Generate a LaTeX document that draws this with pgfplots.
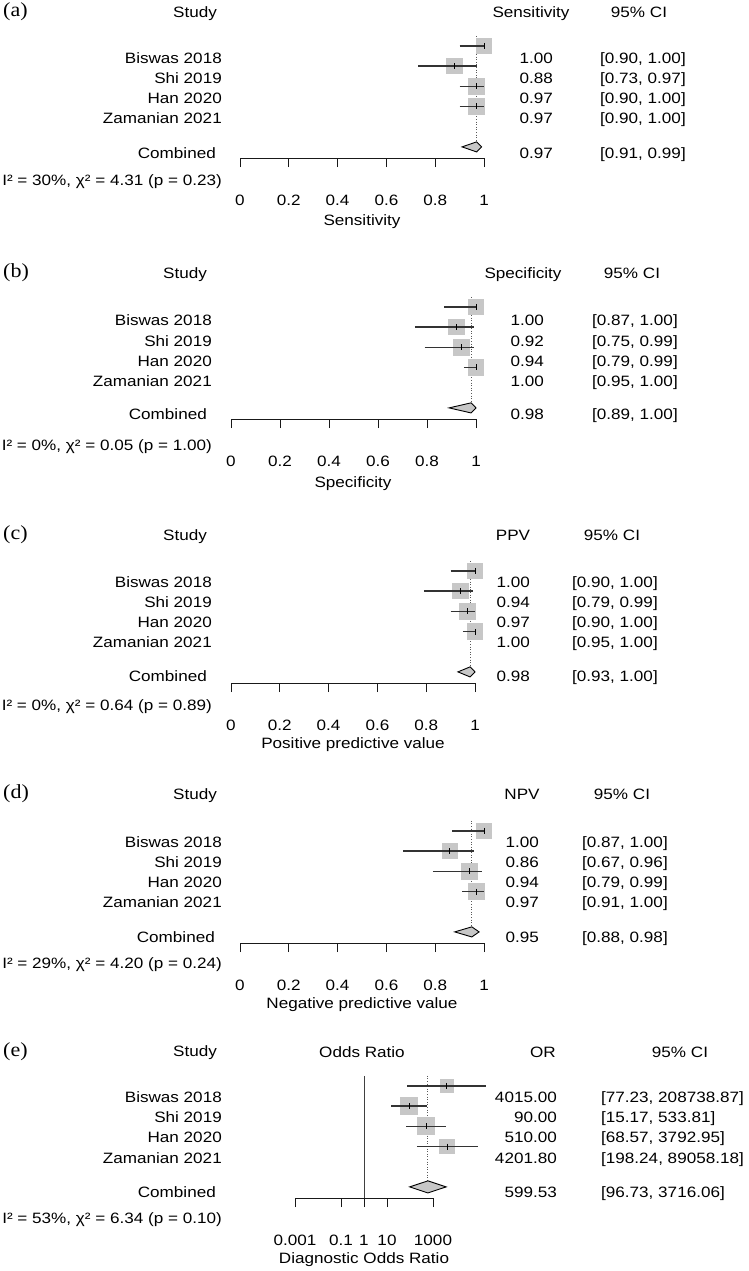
\documentclass[border=0pt]{standalone}
\usepackage{pgfplots}
\pgfplotsset{compat=1.18}
\usepackage{fontspec}
\setmainfont{Liberation Sans}[FakeStretch=1.14]
\newfontfamily\lettfont{Liberation Serif}[FakeStretch=1.1]
\newcommand{\fs}{\fontsize{15}{18}\selectfont}
\tikzset{
  txt/.style={inner sep=0pt, text height=10.74pt, text depth=0pt, font=\fs},
  lett/.style={inner sep=0pt, anchor=west, font=\lettfont\fontsize{20}{24}\selectfont},
}
\newcommand{\R}[3]{\node[txt,anchor=east] at (#1pt,-#2pt) {#3};}
\newcommand{\Lt}[3]{\node[txt,anchor=west] at (#1pt,-#2pt) {#3};}
\newcommand{\C}[3]{\node[txt,anchor=center] at (#1pt,-#2pt) {#3};}
\newcommand{\Lett}[2]{\node[lett] at (3pt,-#1pt) {#2};}
\definecolor{sqgray}{gray}{0.78}
\pgfplotsset{
  forest/.style={
    clip mode=individual,
    scale only axis, height=132.3pt, ymin=-6.55, ymax=0,
    axis x line=bottom, axis y line=none,
    axis line style={-, line width=0.9pt, black!90},
    tick align=outside, major tick length=9pt,
    every tick/.style={line width=0.9pt, black!90},
    clip=false,
    xticklabel style={txt, anchor=center, yshift=-33pt},
  },
  sq/.style={only marks, color=sqgray, mark=square*, mark size=7.75pt,
    mark options={fill=sqgray, draw=sqgray, line width=0pt}},
  ci/.style={line width=1.3pt, black!80, no marks},
  est/.style={only marks, color=black, mark=|, mark size=3pt, mark options={line width=0.9pt, draw=black}},
  refl/.style={line width=0.8pt, black!65, dash pattern=on 1pt off 1.6pt, no marks},
  dia/.style={fill=sqgray, draw=black, line width=0.9pt, no marks},
  unit/.style={xmin=0, xmax=1, xtick={0,0.2,0.4,0.6,0.8,1}, xticklabels={0,0.2,0.4,0.6,0.8,1}},
}
\begin{document}
\begin{tikzpicture}
\path[use as bounding box] (0,0) rectangle (748pt,-1271pt);

% ---------------- (a) Sensitivity
\begin{axis}[forest, unit, at={(240pt,-158pt)}, anchor=south west, width=244pt]
\addplot[refl] coordinates {(0.97,-0.5) (0.97,-5.75)};
\addplot[sq] coordinates {(1.00,-1) (0.88,-2) (0.97,-3) (0.97,-4)};
\addplot[ci] coordinates {(0.90,-1) (1.00,-1)};
\addplot[ci] coordinates {(0.73,-2) (0.97,-2)};
\addplot[ci] coordinates {(0.90,-3) (1.00,-3)};
\addplot[ci] coordinates {(0.90,-4) (1.00,-4)};
\addplot[est] coordinates {(1.00,-1) (0.88,-2) (0.97,-3) (0.97,-4)};
\addplot[dia] coordinates {(0.91,-6) (0.97,-5.75) (0.99,-6) (0.97,-6.25)} -- cycle;
\end{axis}
\Lett{12}{(a)}
\C{195}{12}{Study} \C{531}{12}{Sensitivity} \C{639}{12}{95\% CI}
\R{222}{58}{Biswas 2018} \R{222}{78}{Shi 2019} \R{222}{98}{Han 2020} \R{222}{118}{Zamanian 2021}
\R{216}{153}{Combined}
\R{222}{180}{I² = 30\%, χ² = 4.31 (p = 0.23)}
\R{553}{58}{1.00} \R{553}{78}{0.88} \R{553}{98}{0.97} \R{553}{118}{0.97} \R{553}{153}{0.97}
\Lt{600}{58}{[0.90, 1.00]} \Lt{600}{78}{[0.73, 0.97]} \Lt{600}{98}{[0.90, 1.00]} \Lt{600}{118}{[0.90, 1.00]} \Lt{600}{153}{[0.91, 0.99]}
\C{362}{220}{Sensitivity}

% ---------------- (b) Specificity
\begin{axis}[forest, unit, at={(231pt,-419pt)}, anchor=south west, width=245pt]
\addplot[refl] coordinates {(0.98,-0.5) (0.98,-5.75)};
\addplot[sq] coordinates {(1.00,-1) (0.92,-2) (0.94,-3) (1.00,-4)};
\addplot[ci] coordinates {(0.87,-1) (1.00,-1)};
\addplot[ci] coordinates {(0.75,-2) (0.99,-2)};
\addplot[ci] coordinates {(0.79,-3) (0.99,-3)};
\addplot[ci] coordinates {(0.95,-4) (1.00,-4)};
\addplot[est] coordinates {(1.00,-1) (0.92,-2) (0.94,-3) (1.00,-4)};
\addplot[dia] coordinates {(0.89,-6) (0.98,-5.75) (1.00,-6) (0.98,-6.25)} -- cycle;
\end{axis}
\Lett{273}{(b)}
\C{185}{273}{Study} \C{523}{273}{Specificity} \C{632}{273}{95\% CI}
\R{212}{320}{Biswas 2018} \R{212}{341}{Shi 2019} \R{212}{361}{Han 2020} \R{212}{381}{Zamanian 2021}
\R{207}{414}{Combined}
\R{212}{445}{I² = 0\%, χ² = 0.05 (p = 1.00)}
\R{544}{320}{1.00} \R{544}{341}{0.92} \R{544}{361}{0.94} \R{544}{381}{1.00} \R{544}{414}{0.98}
\Lt{592}{320}{[0.87, 1.00]} \Lt{592}{341}{[0.75, 0.99]} \Lt{592}{361}{[0.79, 0.99]} \Lt{592}{381}{[0.95, 1.00]} \Lt{592}{414}{[0.89, 1.00]}
\C{353}{482}{Specificity}

% ---------------- (c) PPV
\begin{axis}[forest, unit, at={(231pt,-683pt)}, anchor=south west, width=244pt]
\addplot[refl] coordinates {(0.98,-0.5) (0.98,-5.75)};
\addplot[sq] coordinates {(1.00,-1) (0.94,-2) (0.97,-3) (1.00,-4)};
\addplot[ci] coordinates {(0.90,-1) (1.00,-1)};
\addplot[ci] coordinates {(0.79,-2) (0.99,-2)};
\addplot[ci] coordinates {(0.90,-3) (1.00,-3)};
\addplot[ci] coordinates {(0.95,-4) (1.00,-4)};
\addplot[est] coordinates {(1.00,-1) (0.94,-2) (0.97,-3) (1.00,-4)};
\addplot[dia] coordinates {(0.93,-6) (0.98,-5.75) (1.00,-6) (0.98,-6.25)} -- cycle;
\end{axis}
\Lett{535}{(c)}
\C{185}{535}{Study} \C{513}{535}{PPV} \C{612}{535}{95\% CI}
\R{212}{582}{Biswas 2018} \R{212}{602}{Shi 2019} \R{212}{622}{Han 2020} \R{212}{642}{Zamanian 2021}
\R{207}{676}{Combined}
\R{212}{705}{I² = 0\%, χ² = 0.64 (p = 0.89)}
\R{530}{582}{1.00} \R{530}{602}{0.94} \R{530}{622}{0.97} \R{530}{642}{1.00} \R{530}{676}{0.98}
\Lt{572}{582}{[0.90, 1.00]} \Lt{572}{602}{[0.79, 0.99]} \Lt{572}{622}{[0.90, 1.00]} \Lt{572}{642}{[0.95, 1.00]} \Lt{572}{676}{[0.93, 1.00]}
\C{353}{743}{Positive predictive value}

% ---------------- (d) NPV
\begin{axis}[forest, unit, at={(240pt,-943pt)}, anchor=south west, width=244pt]
\addplot[refl] coordinates {(0.95,-0.5) (0.95,-5.75)};
\addplot[sq] coordinates {(1.00,-1) (0.86,-2) (0.94,-3) (0.97,-4)};
\addplot[ci] coordinates {(0.87,-1) (1.00,-1)};
\addplot[ci] coordinates {(0.67,-2) (0.96,-2)};
\addplot[ci] coordinates {(0.79,-3) (0.99,-3)};
\addplot[ci] coordinates {(0.91,-4) (1.00,-4)};
\addplot[est] coordinates {(1.00,-1) (0.86,-2) (0.94,-3) (0.97,-4)};
\addplot[dia] coordinates {(0.88,-6) (0.95,-5.75) (0.98,-6) (0.95,-6.25)} -- cycle;
\end{axis}
\Lett{794}{(d)}
\C{195}{794}{Study} \C{522}{794}{NPV} \C{622}{794}{95\% CI}
\R{222}{842}{Biswas 2018} \R{222}{862}{Shi 2019} \R{222}{882}{Han 2020} \R{222}{902}{Zamanian 2021}
\R{215}{937}{Combined}
\R{222}{963}{I² = 29\%, χ² = 4.20 (p = 0.24)}
\R{539}{842}{1.00} \R{539}{862}{0.86} \R{539}{882}{0.94} \R{539}{902}{0.97} \R{539}{937}{0.95}
\Lt{582}{842}{[0.87, 1.00]} \Lt{582}{862}{[0.67, 0.96]} \Lt{582}{882}{[0.79, 0.99]} \Lt{582}{902}{[0.91, 1.00]} \Lt{582}{937}{[0.88, 0.98]}
\C{362}{1003}{Negative predictive value}

% ---------------- (e) Diagnostic odds ratio
\begin{axis}[forest, xmode=log, log basis x=10, at={(295pt,-1198pt)}, anchor=south west, width=138pt,
  xmin=0.001, xmax=1000, xtick={0.001,0.1,1,10,1000}, xticklabels={0.001,0.1,1,10,1000}]
\addplot[line width=1pt, black!75, no marks] coordinates {(1,-0.5) (1,-6.55)};
\addplot[refl] coordinates {(599.53,-0.5) (599.53,-5.7)};
\addplot[sq, mark size=6.2pt] coordinates {(4015,-1)};
\addplot[sq, mark size=8.6pt] coordinates {(90,-2)};
\addplot[sq, mark size=8.4pt] coordinates {(510,-3)};
\addplot[sq, mark size=7.4pt] coordinates {(4201.8,-4)};
\addplot[ci] coordinates {(77.23,-1) (208738.87,-1)};
\addplot[ci] coordinates {(15.17,-2) (533.81,-2)};
\addplot[ci] coordinates {(68.57,-3) (3792.95,-3)};
\addplot[ci] coordinates {(198.24,-4) (89058.18,-4)};
\addplot[est] coordinates {(4015,-1) (90,-2) (510,-3) (4201.8,-4)};
\addplot[dia] coordinates {(96.73,-6) (599.53,-5.7) (3716.06,-6) (599.53,-6.3)} -- cycle;
\end{axis}
\Lett{1052}{(e)}
\C{195}{1051}{Study} \C{362}{1052}{Odds Ratio} \C{543}{1052}{OR} \C{680}{1052}{95\% CI}
\R{222}{1097}{Biswas 2018} \R{222}{1117}{Shi 2019} \R{222}{1137}{Han 2020} \R{222}{1158}{Zamanian 2021}
\R{216}{1192}{Combined}
\R{222}{1218}{I² = 53\%, χ² = 6.34 (p = 0.10)}
\R{557}{1097}{4015.00} \R{557}{1117}{90.00} \R{557}{1137}{510.00} \R{557}{1158}{4201.80} \R{557}{1192}{599.53}
\Lt{601}{1097}{[77.23, 208738.87]} \Lt{601}{1117}{[15.17, 533.81]} \Lt{601}{1137}{[68.57, 3792.95]} \Lt{601}{1158}{[198.24, 89058.18]} \Lt{601}{1192}{[96.73, 3716.06]}
\C{364}{1258}{Diagnostic Odds Ratio}
\end{tikzpicture}
\end{document}
